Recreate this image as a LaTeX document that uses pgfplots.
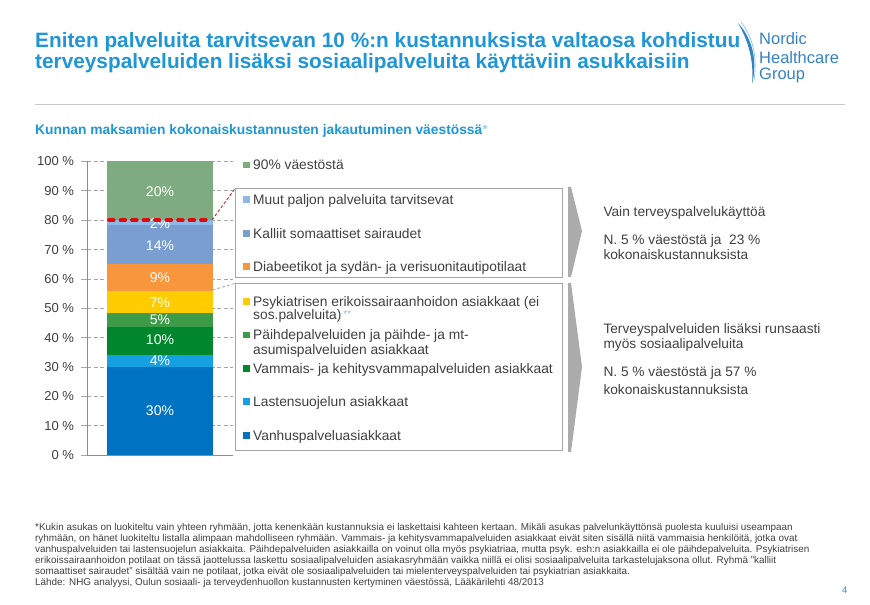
\documentclass[border=0pt]{standalone}
\usepackage{pgfplots}
\pgfplotsset{compat=1.18}
\usepackage{fontspec}
\setmainfont{Liberation Sans}

\definecolor{cTop}{HTML}{7EAC80}
\definecolor{cMuut}{HTML}{8DB8E8}
\definecolor{cKall}{HTML}{7A9ED0}
\definecolor{cDiab}{HTML}{F7963C}
\definecolor{cPsyk}{HTML}{FFCC00}
\definecolor{cPaih}{HTML}{3C9B46}
\definecolor{cVamm}{HTML}{00872D}
\definecolor{cLast}{HTML}{14A0E1}
\definecolor{cVanh}{HTML}{0072C2}
\definecolor{titleblue}{HTML}{1E96D7}
\definecolor{lightblue}{HTML}{80BDEA}
\definecolor{textgray}{HTML}{404040}
\definecolor{gridc}{HTML}{A6A6A6}
\definecolor{axisc}{HTML}{8C8C8C}
\definecolor{boxc}{HTML}{A6A6A6}
\definecolor{chev}{HTML}{ABABAB}
\definecolor{rulec}{HTML}{C8C8C8}
\definecolor{logoblue}{HTML}{3483C4}
\definecolor{redd}{HTML}{DC0C0C}

\newcommand\fsz[1]{\fontsize{#1bp}{#1bp}\selectfont}
% legend entry: colour, baseline (pixels from top), text
\newcommand\legitem[3]{%
  \fill[#1] (243.3,{#2-8.4}) rectangle (250,{#2-1.7});
  \node[anchor=base west, inner sep=0, font=\fsz{13.8}, text=textgray] at (253,#2) {#3};}
\newcommand\ptext[3]{\node[anchor=base west, inner sep=0, font=\fsz{#1}, text=textgray] at #2 {#3};}

\begin{document}
\begin{tikzpicture}[x=1bp,y=1bp]
\useasboundingbox (0,0) rectangle (870,605);
\fill[white] (0,0) rectangle (870,605);

\begin{axis}[
  at={(87bp,150bp)}, anchor=south west,
  scale only axis, width=146bp, height=293.5bp,
  xmin=0, xmax=1, ymin=0, ymax=100,
  ybar stacked, bar width=105.3bp,
  axis x line=bottom, axis y line=left,
  axis line style={-, draw=axisc, line width=0.8bp},
  xtick=\empty,
  ytick={0,10,...,100},
  ymajorgrids,
  major grid style={draw=gridc, line width=0.7bp, dash pattern=on 4bp off 2.5bp},
  tick align=outside, major tick length=6bp,
  tick style={draw=gridc, line width=0.7bp},
  yticklabel={\pgfmathprintnumber{\tick}~\%},
  /pgf/number format/assume math mode=true,
  yticklabel style={font=\fsz{13}, text=textgray, xshift=-3.5bp},
  clip=false,
]
% bottom to top
\addplot[fill=cVanh, draw=none] coordinates {(0.5,30)};
\addplot[fill=cLast, draw=none] coordinates {(0.5,4)};
\addplot[fill=cVamm, draw=none] coordinates {(0.5,9.7)};
\addplot[fill=cPaih, draw=none] coordinates {(0.5,4.8)};
\addplot[fill=cPsyk, draw=none] coordinates {(0.5,7.5)};
\addplot[fill=cDiab, draw=none] coordinates {(0.5,9)};
\addplot[fill=cKall, draw=none] coordinates {(0.5,13.5)};
\addplot[fill=cMuut, draw=none] coordinates {(0.5,1.5)};
\addplot[fill=cTop, draw=none] coordinates {(0.5,20)};

% label anchors (drawn after the axis so they sit above the bars)
\coordinate (b1) at (axis cs:0.5,15);
\coordinate (b2) at (axis cs:0.5,32.3);
\coordinate (b3) at (axis cs:0.5,39.2);
\coordinate (b4) at (axis cs:0.5,46.2);
\coordinate (b5) at (axis cs:0.5,51.9);
\coordinate (b6) at (axis cs:0.5,60.4);
\coordinate (b7) at (axis cs:0.5,71.3);
\coordinate (b8) at (axis cs:0.5,78.9);
\coordinate (b9) at (axis cs:0.5,89.8);
\coordinate (rl) at (axis cs:0.15,80);
\coordinate (rr) at (axis cs:0.85,80);
\end{axis}

\foreach \p/\t in {b1/30, b2/4, b3/10, b4/5, b5/7, b6/9, b7/14, b8/2, b9/20}
  \node[font=\fsz{14}, text=white, inner sep=0] at (\p) {\t\%};
\draw[redd, line width=3.4bp, line cap=round, dash pattern=on 5bp off 6.5bp] (rl) -- (rr);

\begin{scope}[shift={(0,605)}, y=-1bp]
% title
\node[anchor=base west, inner sep=0, font=\bfseries\fsz{20.8}, text=titleblue] at (35,48)
  {Eniten palveluita tarvitsevan 10 \%:n kustannuksista valtaosa kohdistuu};
\node[anchor=base west, inner sep=0, font=\bfseries\fsz{20.8}, text=titleblue] at (35,68.5)
  {terveyspalveluiden lisäksi sosiaalipalveluita käyttäviin asukkaisiin};
% logo
\fill[logoblue] (738,23) .. controls (752,38) and (758,60) .. (752,84)
  .. controls (754,62) and (749,42) .. (738,23) -- cycle;
\draw[lightblue, line width=0.6bp] (741,22) .. controls (755,40) and (757,62) .. (754,80);
\node[anchor=base west, inner sep=0, font=\fsz{16.5}, text=logoblue] at (759,45) {Nordic};
\node[anchor=base west, inner sep=0, font=\fsz{16.5}, text=logoblue] at (759,63.3) {Healthcare};
\node[anchor=base west, inner sep=0, font=\fsz{16.5}, text=logoblue] at (759,80) {Group};
\draw[rulec, line width=1bp] (35,105) -- (845,105);
% subtitle
\node[anchor=base west, inner sep=0, font=\fsz{13.8}, text=titleblue] at (35,135)
  {\textbf{Kunnan maksamien kokonaiskustannusten jakautuminen väestössä}{\color{lightblue}*}};

% connectors
\draw[redd, line width=0.8bp, dash pattern=on 3bp off 2bp] (212,220) -- (235.3,188.3);
\draw[gridc, line width=0.8bp, dash pattern=on 3bp off 2bp] (212.5,290) -- (235.3,283.3);

% legend boxes
\draw[boxc, line width=1bp] (235.3,188.3) rectangle (562.7,277.7);
\draw[boxc, line width=1bp] (235.3,283.3) rectangle (562.7,451);
\legitem{cTop}{170}{90\% väestöstä}
\legitem{cMuut}{204.3}{Muut paljon palveluita tarvitsevat}
\legitem{cKall}{238.3}{Kalliit somaattiset sairaudet}
\legitem{cDiab}{271.7}{Diabeetikot ja sydän- ja verisuonitautipotilaat}
\legitem{cPsyk}{306.7}{Psykiatrisen erikoissairaanhoidon asiakkaat (ei}
\ptext{13.8}{(253,320)}{sos.palveluita)\kern2bp{\color{lightblue}\fsz{10}\raisebox{2.5bp}{**}}}
\legitem{cPaih}{340}{Päihdepalveluiden ja päihde- ja mt-}
\ptext{13.8}{(253,355)}{asumispalveluiden asiakkaat}
\legitem{cVamm}{373.3}{Vammais- ja kehitysvammapalveluiden asiakkaat}
\legitem{cLast}{406.7}{Lastensuojelun asiakkaat}
\legitem{cVanh}{440.7}{Vanhuspalveluasiakkaat}

% chevrons
\fill[chev] (568,187) -- (571,187) -- (582,231) -- (571,277) -- (568,277) -- cycle;
\fill[chev] (568,283) -- (571,283) -- (582,367) -- (571,452) -- (568,452) -- cycle;

% right texts
\ptext{13.7}{(603.3,216.7)}{Vain terveyspalvelukäyttöä}
\ptext{13.7}{(603.3,245)}{N. 5 \% väestöstä ja \ 23 \%}
\ptext{13.7}{(603.3,260)}{kokonaiskustannuksista}
\ptext{13.7}{(603.3,333.3)}{Terveyspalveluiden lisäksi runsaasti}
\ptext{13.7}{(603.3,348.3)}{myös sosiaalipalveluita}
\ptext{13.7}{(603.3,376.7)}{N. 5 \% väestöstä ja 57 \%}
\ptext{13.7}{(603.3,395)}{kokonaiskustannuksista}

% footnote
\ptext{9.9}{(35,531)}{*Kukin asukas on luokiteltu vain yhteen ryhmään, jotta kenenkään kustannuksia ei laskettaisi kahteen kertaan. Mikäli asukas palvelunkäyttönsä puolesta kuuluisi useampaan}
\ptext{9.9}{(35,541.9)}{ryhmään, on hänet luokiteltu listalla alimpaan mahdolliseen ryhmään. Vammais- ja kehitysvammapalveluiden asiakkaat eivät siten sisällä niitä vammaisia henkilöitä, jotka ovat}
\ptext{9.9}{(35,552.8)}{vanhuspalveluiden tai lastensuojelun asiakkaita. Päihdepalveluiden asiakkailla on voinut olla myös psykiatriaa, mutta psyk. esh:n asiakkailla ei ole päihdepalveluita. Psykiatrisen}
\ptext{9.9}{(35,563.7)}{erikoissairaanhoidon potilaat on tässä jaottelussa laskettu sosiaalipalveluiden asiakasryhmään vaikka niillä ei olisi sosiaalipalveluita tarkastelujaksona ollut. Ryhmä "kalliit}
\ptext{9.9}{(35,574.6)}{somaattiset sairaudet" sisältää vain ne potilaat, jotka eivät ole sosiaalipalveluiden tai mielenterveyspalveluiden tai psykiatrian asiakkaita.}
\ptext{9.9}{(35,585.5)}{Lähde: NHG analyysi, Oulun sosiaali- ja terveydenhuollon kustannusten kertyminen väestössä, Lääkärilehti 48/2013}
\node[anchor=base west, inner sep=0, font=\fsz{9.4}, text=titleblue] at (842,594) {4};
\end{scope}
\end{tikzpicture}
\end{document}
